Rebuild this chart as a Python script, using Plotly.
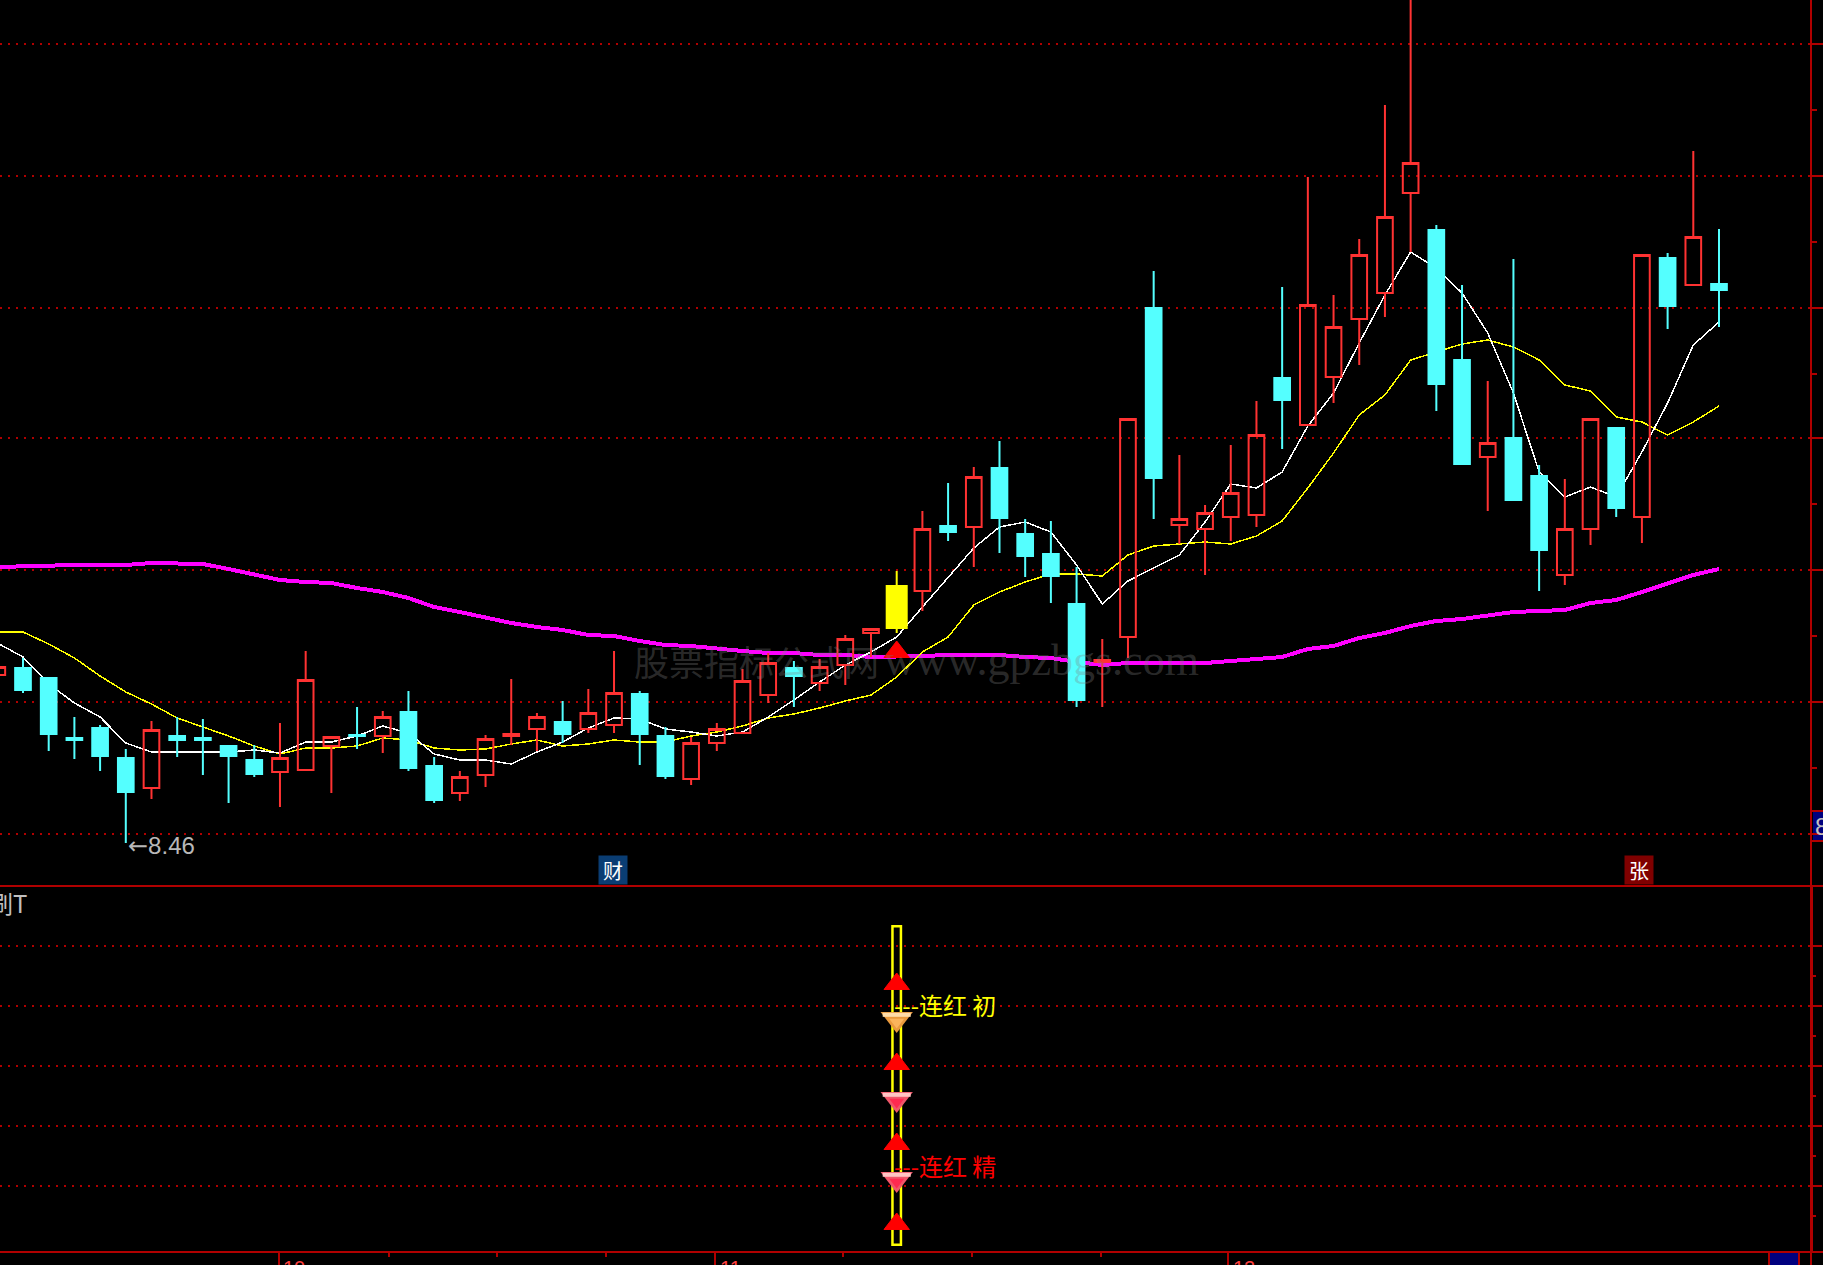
"""Stock chart: candles with moving averages and a signal panel below"""

import plotly.graph_objects as go

W = 1823
H = 1265

bar_index = list(range(-1, 67))

opens = [
    9.300, 9.335, 9.285, 8.985, 9.035, 8.885, 8.735, 8.995, 8.985, 8.945, 8.875, 8.815, 8.825, 8.945,
    9.000, 8.995, 9.115, 8.845, 8.710, 8.800, 8.995, 9.030, 9.065, 9.030, 9.050, 9.205, 8.995, 8.780,
    8.960, 9.010, 9.200, 9.335, 9.260, 9.350, 9.510, 9.535, 9.720, 10.045, 10.040, 10.335, 10.005,
    9.905, 9.655, 9.365, 9.490, 11.135, 10.050, 10.030, 10.090, 10.100, 10.785, 10.550, 10.790,
    11.080, 11.210, 11.710, 11.525, 10.875, 10.390, 10.485, 10.295, 9.800, 10.030, 10.535, 10.090,
    11.385, 11.250, 11.255,
]
highs = [
    9.345, 9.385, 9.290, 9.090, 9.050, 8.930, 9.070, 9.090, 9.080, 8.950, 8.950, 9.060, 9.420, 8.995,
    9.140, 9.120, 9.220, 8.890, 8.820, 9.000, 9.280, 9.110, 9.170, 9.230, 9.420, 9.220, 9.040, 8.990,
    9.060, 9.330, 9.410, 9.370, 9.380, 9.500, 9.535, 9.820, 10.120, 10.260, 10.340, 10.470, 10.080,
    10.070, 9.840, 9.480, 10.585, 11.320, 10.400, 10.150, 10.450, 10.670, 11.240, 11.790, 11.200,
    11.480, 12.150, 12.725, 11.550, 11.250, 10.770, 11.380, 10.350, 10.280, 10.585, 10.540, 11.405,
    11.410, 11.920, 11.530,
]
lows = [
    9.295, 9.210, 8.920, 8.880, 8.820, 8.460, 8.680, 8.890, 8.800, 8.660, 8.790, 8.640, 8.820, 8.710,
    8.930, 8.910, 8.820, 8.660, 8.670, 8.740, 8.950, 8.920, 8.960, 9.010, 9.010, 8.850, 8.780, 8.750,
    8.920, 9.005, 9.160, 9.140, 9.220, 9.250, 9.390, 9.510, 9.620, 9.970, 9.840, 9.910, 9.790,
    9.660, 9.140, 9.140, 9.385, 10.080, 9.955, 9.800, 9.970, 10.040, 10.430, 10.545, 10.660,
    10.850, 11.090, 11.415, 10.620, 10.350, 10.120, 10.170, 9.720, 9.750, 9.950, 10.090, 9.960,
    11.030, 11.245, 11.040,
]
closes = [
    9.340, 9.225, 9.005, 8.975, 8.895, 8.715, 9.025, 8.975, 8.975, 8.895, 8.805, 8.885, 9.275, 8.990,
    8.995, 9.090, 8.835, 8.675, 8.790, 8.980, 9.005, 9.090, 9.005, 9.110, 9.210, 9.005, 8.795, 8.960,
    9.030, 9.270, 9.360, 9.295, 9.340, 9.480, 9.530, 9.745, 10.030, 10.015, 10.290, 10.085, 9.895,
    9.795, 9.175, 9.375, 10.580, 10.285, 10.080, 10.110, 10.210, 10.500, 10.675, 11.150, 11.040,
    11.400, 11.590, 11.860, 10.755, 10.355, 10.460, 10.175, 9.925, 10.030, 10.580, 10.135, 11.400,
    11.145, 11.490, 11.225,
]

ma_white = [
    9.460, 9.390, 9.255, 9.160, 9.090, 8.960, 8.915, 8.915, 8.915, 8.915, 8.925, 8.910, 8.965, 8.965,
    8.995, 9.045, 9.010, 8.905, 8.875, 8.875, 8.855, 8.915, 8.965, 9.035, 9.085, 9.080, 9.030, 9.015,
    8.995, 9.015, 9.090, 9.175, 9.265, 9.350, 9.415, 9.490, 9.640, 9.785, 9.935, 10.040, 10.065,
    10.015, 9.850, 9.655, 9.770, 9.835, 9.900, 10.065, 10.255, 10.235, 10.315, 10.545, 10.710,
    10.960, 11.200, 11.415, 11.335, 11.210, 11.010, 10.710, 10.315, 10.190, 10.240, 10.190, 10.415,
    10.660, 10.950, 11.065,
]
ma_yellow = [
    9.515, 9.515, 9.455, 9.385, 9.295, 9.215, 9.155, 9.085, 9.040, 8.995, 8.945, 8.905, 8.935, 8.935,
    8.945, 8.985, 8.975, 8.935, 8.925, 8.930, 8.955, 8.975, 8.945, 8.955, 8.975, 8.965, 8.965, 8.995,
    9.015, 9.045, 9.085, 9.105, 9.135, 9.170, 9.200, 9.290, 9.415, 9.490, 9.650, 9.715, 9.765,
    9.805, 9.805, 9.795, 9.900, 9.945, 9.955, 9.965, 9.955, 9.995, 10.070, 10.235, 10.410,
    10.600, 10.700, 10.875, 10.915, 10.955, 10.975, 10.940, 10.875, 10.750, 10.720, 10.590, 10.565,
    10.500, 10.565, 10.645,
]
ma_magenta = [
    9.840, 9.845, 9.850, 9.850, 9.850, 9.850, 9.860, 9.860, 9.855, 9.830, 9.805, 9.775, 9.765, 9.760,
    9.735, 9.715, 9.685, 9.640, 9.615, 9.585, 9.560, 9.540, 9.525, 9.500, 9.495, 9.470, 9.450, 9.445,
    9.430, 9.420, 9.410, 9.410, 9.400, 9.400, 9.390, 9.390, 9.395, 9.400, 9.400, 9.400, 9.390,
    9.385, 9.365, 9.350, 9.360, 9.360, 9.360, 9.360, 9.370, 9.380, 9.390, 9.430, 9.445,
    9.485, 9.510, 9.545, 9.570, 9.580, 9.600, 9.615, 9.620, 9.625, 9.660, 9.675, 9.715,
    9.755, 9.800, 9.830,
]

price_grid = [12.455, 11.795, 11.135, 10.485, 9.825, 9.165, 8.505]
price_minor = [12.125, 11.465, 10.805, 10.155, 9.495, 8.835]
signal_grid = [1, 2, 3, 4, 5]
signal_minor = [0.5, 1.5, 2.5, 3.5, 4.5]

month_ticks = [9.95, 26.93, 46.9]
month_labels = ["10", "11", "12"]
minor_x_ticks = [14.24, 18.45, 22.7, 31.9, 36.93, 41.95]

signal_bar = 34
signal_top = 5.33
signal_bottom = 0.02
signal_price = 9.415
triangle_levels = [0.367, 1.7, 3.033, 4.367]
gem_orange_level = [3.783]
gem_red_levels = [2.45, 1.117]

LOW_PRICE = 8.46
LAST_PRICE = 8.545

GRID = "#b00000"
RED = "#ff3232"
CYAN = "#54ffff"

# x axis: candle i sits at 23 + 25.697 * i pixels, plot ends at pixel 1811
x_range = [-23 / 25.697, (1811 - 23) / 25.697]
x_domain = [0, 1811 / W]
price_range = [8.245, 12.675]
signal_range = [-0.1, 6]


def px_x(x):
    return x / W


def px_y(y):
    return 1 - y / H


fig = go.Figure()

# Moving averages go on the base axes so the candles cover them
fig.add_trace(go.Scatter(x=bar_index, y=ma_magenta, mode="lines", line=dict(color="#ff00ff", width=4)))
fig.add_trace(go.Scatter(x=bar_index, y=ma_yellow, mode="lines", line=dict(color="#ffff00", width=1.5)))
fig.add_trace(go.Scatter(x=bar_index, y=ma_white, mode="lines", line=dict(color="#ffffff", width=1.5)))

# Candles on an overlaying pair of axes
keep = [k for k, i in enumerate(bar_index) if i != signal_bar]
fig.add_trace(
    go.Candlestick(
        x=[bar_index[k] for k in keep],
        open=[opens[k] for k in keep],
        high=[highs[k] for k in keep],
        low=[lows[k] for k in keep],
        close=[closes[k] for k in keep],
        increasing=dict(line=dict(color=RED, width=2), fillcolor="rgba(0,0,0,0)"),
        decreasing=dict(line=dict(color=CYAN, width=2), fillcolor=CYAN),
        whiskerwidth=0,
        xaxis="x3",
        yaxis="y3",
    )
)

# Signal day candle is solid yellow and a bit wider
k = bar_index.index(signal_bar)
fig.add_trace(
    go.Candlestick(
        x=[signal_bar],
        open=[opens[k]],
        high=[highs[k]],
        low=[lows[k]],
        close=[closes[k]],
        increasing=dict(line=dict(color="#ffff00", width=2), fillcolor="#ffff00"),
        xaxis="x3",
        yaxis="y3",
    )
)
fig.add_trace(
    go.Bar(
        x=[signal_bar],
        base=[opens[k] - 0.005],
        y=[closes[k] - opens[k] + 0.01],
        width=0.856,
        marker=dict(color="#ffff00", line=dict(width=0)),
        xaxis="x3",
        yaxis="y3",
    )
)
fig.add_trace(
    go.Scatter(
        x=[signal_bar],
        y=[signal_price],
        mode="markers",
        marker=dict(symbol="triangle-up", size=22, color="#ff0000", line=dict(color="#ff0000", width=1)),
        xaxis="x3",
        yaxis="y3",
    )
)

# Lower panel
fig.add_trace(
    go.Bar(
        x=[signal_bar],
        base=[signal_bottom],
        y=[signal_top - signal_bottom],
        width=0.33,
        marker=dict(color="rgba(0,0,0,0)", line=dict(color="#ffff00", width=2.5)),
        xaxis="x2",
        yaxis="y2",
    )
)
fig.add_trace(
    go.Scatter(
        x=[signal_bar] * len(triangle_levels),
        y=triangle_levels,
        mode="markers",
        marker=dict(symbol="triangle-up", size=22, color="#ff0000", line=dict(color="#ff0000", width=1)),
        xaxis="x2",
        yaxis="y2",
    )
)


def add_gems(levels, base, band, core):
    xs = [signal_bar] * len(levels)
    fig.add_trace(
        go.Scatter(
            x=xs,
            y=levels,
            mode="markers",
            marker=dict(symbol="triangle-down", size=28, color=base),
            xaxis="x2",
            yaxis="y2",
        )
    )
    fig.add_trace(
        go.Scatter(
            x=xs,
            y=[v + 0.07 for v in levels],
            mode="markers",
            marker=dict(symbol="line-ew", size=20, line=dict(color=band, width=4)),
            xaxis="x2",
            yaxis="y2",
        )
    )
    fig.add_trace(
        go.Scatter(
            x=xs,
            y=[v - 0.05 for v in levels],
            mode="markers",
            marker=dict(symbol="triangle-down", size=13, color=core),
            xaxis="x2",
            yaxis="y2",
        )
    )


add_gems(gem_orange_level, "#ea9a3e", "#ffdca8", "#fbb45c")
add_gems(gem_red_levels, "#f0566a", "#ffc4c4", "#ff2a50")

annotations = [
    dict(
        text='<span style="font-family:DejaVu Sans">←</span>8.46',
        x=4,
        y=LOW_PRICE - 0.015,
        xref="x",
        yref="y",
        xanchor="left",
        yanchor="middle",
        showarrow=False,
        font=dict(family="Liberation Sans, DejaVu Sans", size=24, color="#b8b8b8"),
    ),
    dict(
        text="股票指标公式网",
        x=px_x(632),
        y=px_y(660),
        xref="paper",
        yref="paper",
        xanchor="left",
        yanchor="middle",
        showarrow=False,
        font=dict(family="Noto Sans CJK SC", size=35, color="rgba(128,128,128,0.33)"),
    ),
    dict(
        text="www.gpzbgs.com",
        x=px_x(882),
        y=px_y(660),
        xref="paper",
        yref="paper",
        xanchor="left",
        yanchor="middle",
        showarrow=False,
        font=dict(family="Liberation Serif", size=44, color="rgba(128,128,128,0.33)"),
    ),
    dict(
        text="---连红 初",
        x=signal_bar,
        y=4.017,
        xref="x2",
        yref="y2",
        xanchor="left",
        yanchor="middle",
        xshift=-5,
        showarrow=False,
        font=dict(family="Noto Sans CJK SC", size=24, color="#ffff00"),
    ),
    dict(
        text="---连红 精",
        x=signal_bar,
        y=1.35,
        xref="x2",
        yref="y2",
        xanchor="left",
        yanchor="middle",
        xshift=-5,
        showarrow=False,
        font=dict(family="Noto Sans CJK SC", size=24, color="#ff0000"),
    ),
    dict(
        text="刷T",
        x=px_x(29),
        y=px_y(902),
        xref="paper",
        yref="paper",
        xanchor="right",
        yanchor="middle",
        showarrow=False,
        font=dict(family="Noto Sans CJK SC", size=24, color="#c0c0c0"),
    ),
    dict(
        text="财",
        x=px_x(613),
        y=px_y(870),
        xref="paper",
        yref="paper",
        xanchor="center",
        yanchor="middle",
        width=26,
        height=26,
        bgcolor="#0a3d73",
        showarrow=False,
        font=dict(family="Noto Sans CJK SC", size=20, color="#ffffff"),
    ),
    dict(
        text="张",
        x=px_x(1639),
        y=px_y(870),
        xref="paper",
        yref="paper",
        xanchor="center",
        yanchor="middle",
        width=26,
        height=26,
        bgcolor="#7f0000",
        showarrow=False,
        font=dict(family="Noto Sans CJK SC", size=20, color="#ffffff"),
    ),
]

# Price box on the right edge, only the first digit fits
annotations.append(
    dict(
        text=f"{LAST_PRICE:.2f}",
        x=px_x(1813),
        y=px_y(826),
        xref="paper",
        yref="paper",
        xanchor="left",
        yanchor="middle",
        showarrow=False,
        font=dict(family="Liberation Sans", size=24, color="#c0c0c0"),
    )
)

for tick, label in zip(month_ticks, month_labels):
    annotations.append(
        dict(
            text=label,
            x=tick + 0.1,
            y=px_y(1255),
            xref="x2",
            yref="paper",
            xanchor="left",
            yanchor="top",
            showarrow=False,
            font=dict(family="Liberation Sans", size=20, color="#ff4040"),
        )
    )


def paper_rect(x0, y0, x1, y1, color):
    return dict(
        type="rect",
        xref="paper",
        yref="paper",
        x0=px_x(x0),
        x1=px_x(x1),
        y0=px_y(y0),
        y1=px_y(y1),
        fillcolor=color,
        line=dict(width=0),
        layer="below",
    )


shapes = [
    paper_rect(0, 885, W, 887, GRID),
    paper_rect(0, 1251, W, 1253, GRID),
    paper_rect(1810, 0, 1812, 886, GRID),
    paper_rect(1810, 886, 1813, 1252, GRID),
    paper_rect(1810, 1252, 1812, H, GRID),
    paper_rect(1813, 812, W, 840, "#00007f"),
    paper_rect(1812, 810, W, 812, GRID),
    paper_rect(1812, 840, W, 842, GRID),
    paper_rect(1770, 1253, 1798, H, "#00007f"),
    paper_rect(1768, 1253, 1770, H, GRID),
    paper_rect(1798, 1253, 1800, H, GRID),
]

fig.update_layout(
    width=W,
    height=H,
    margin=dict(l=0, r=0, t=0, b=0),
    paper_bgcolor="#000000",
    plot_bgcolor="#000000",
    showlegend=False,
    boxgap=0.39,
    boxgroupgap=0,
    annotations=annotations,
    shapes=shapes,
    xaxis=dict(
        domain=x_domain,
        range=x_range,
        anchor="y",
        showgrid=False,
        zeroline=False,
        showticklabels=False,
        ticks="",
        rangeslider=dict(visible=False),
    ),
    yaxis=dict(
        domain=[px_y(886), 1],
        range=price_range,
        anchor="x",
        side="right",
        tickmode="array",
        tickvals=price_grid,
        showticklabels=False,
        ticks="outside",
        ticklen=11,
        tickwidth=2,
        tickcolor=GRID,
        minor=dict(tickmode="array", tickvals=price_minor, ticks="outside", ticklen=5, tickwidth=2, tickcolor=GRID),
        showgrid=True,
        gridcolor=GRID,
        gridwidth=2,
        griddash="2px,6px",
        zeroline=False,
    ),
    xaxis2=dict(
        domain=x_domain,
        range=x_range,
        anchor="y2",
        showgrid=False,
        zeroline=False,
        showticklabels=False,
        tickmode="array",
        tickvals=month_ticks,
        ticks="outside",
        ticklen=13,
        tickwidth=2,
        tickcolor=GRID,
        minor=dict(tickmode="array", tickvals=minor_x_ticks, ticks="outside", ticklen=4, tickwidth=2, tickcolor=GRID),
    ),
    yaxis2=dict(
        domain=[px_y(1252), px_y(886)],
        range=signal_range,
        anchor="x2",
        side="right",
        tickmode="array",
        tickvals=signal_grid,
        showticklabels=False,
        ticks="outside",
        ticklen=10,
        tickwidth=2,
        tickcolor=GRID,
        minor=dict(tickmode="array", tickvals=signal_minor, ticks="outside", ticklen=4, tickwidth=2, tickcolor=GRID),
        showgrid=True,
        gridcolor=GRID,
        gridwidth=2,
        griddash="2px,6px",
        zeroline=False,
    ),
    xaxis3=dict(
        overlaying="x",
        anchor="y3",
        domain=x_domain,
        range=x_range,
        visible=False,
        rangeslider=dict(visible=False),
    ),
    yaxis3=dict(overlaying="y", anchor="x3", range=price_range, visible=False),
)

# Page margin off and aliased lines like the terminal screenshot
post = (
    "document.body.style.margin='0';"
    "document.body.style.background='#000';"
    "document.body.style.overflow='hidden';"
    "document.querySelectorAll('.scatterlayer .js-line').forEach(function(p){"
    "p.style.shapeRendering='crispEdges';});"
)
fig.write_html("out.html", post_script=post, config=dict(displayModeBar=False))
